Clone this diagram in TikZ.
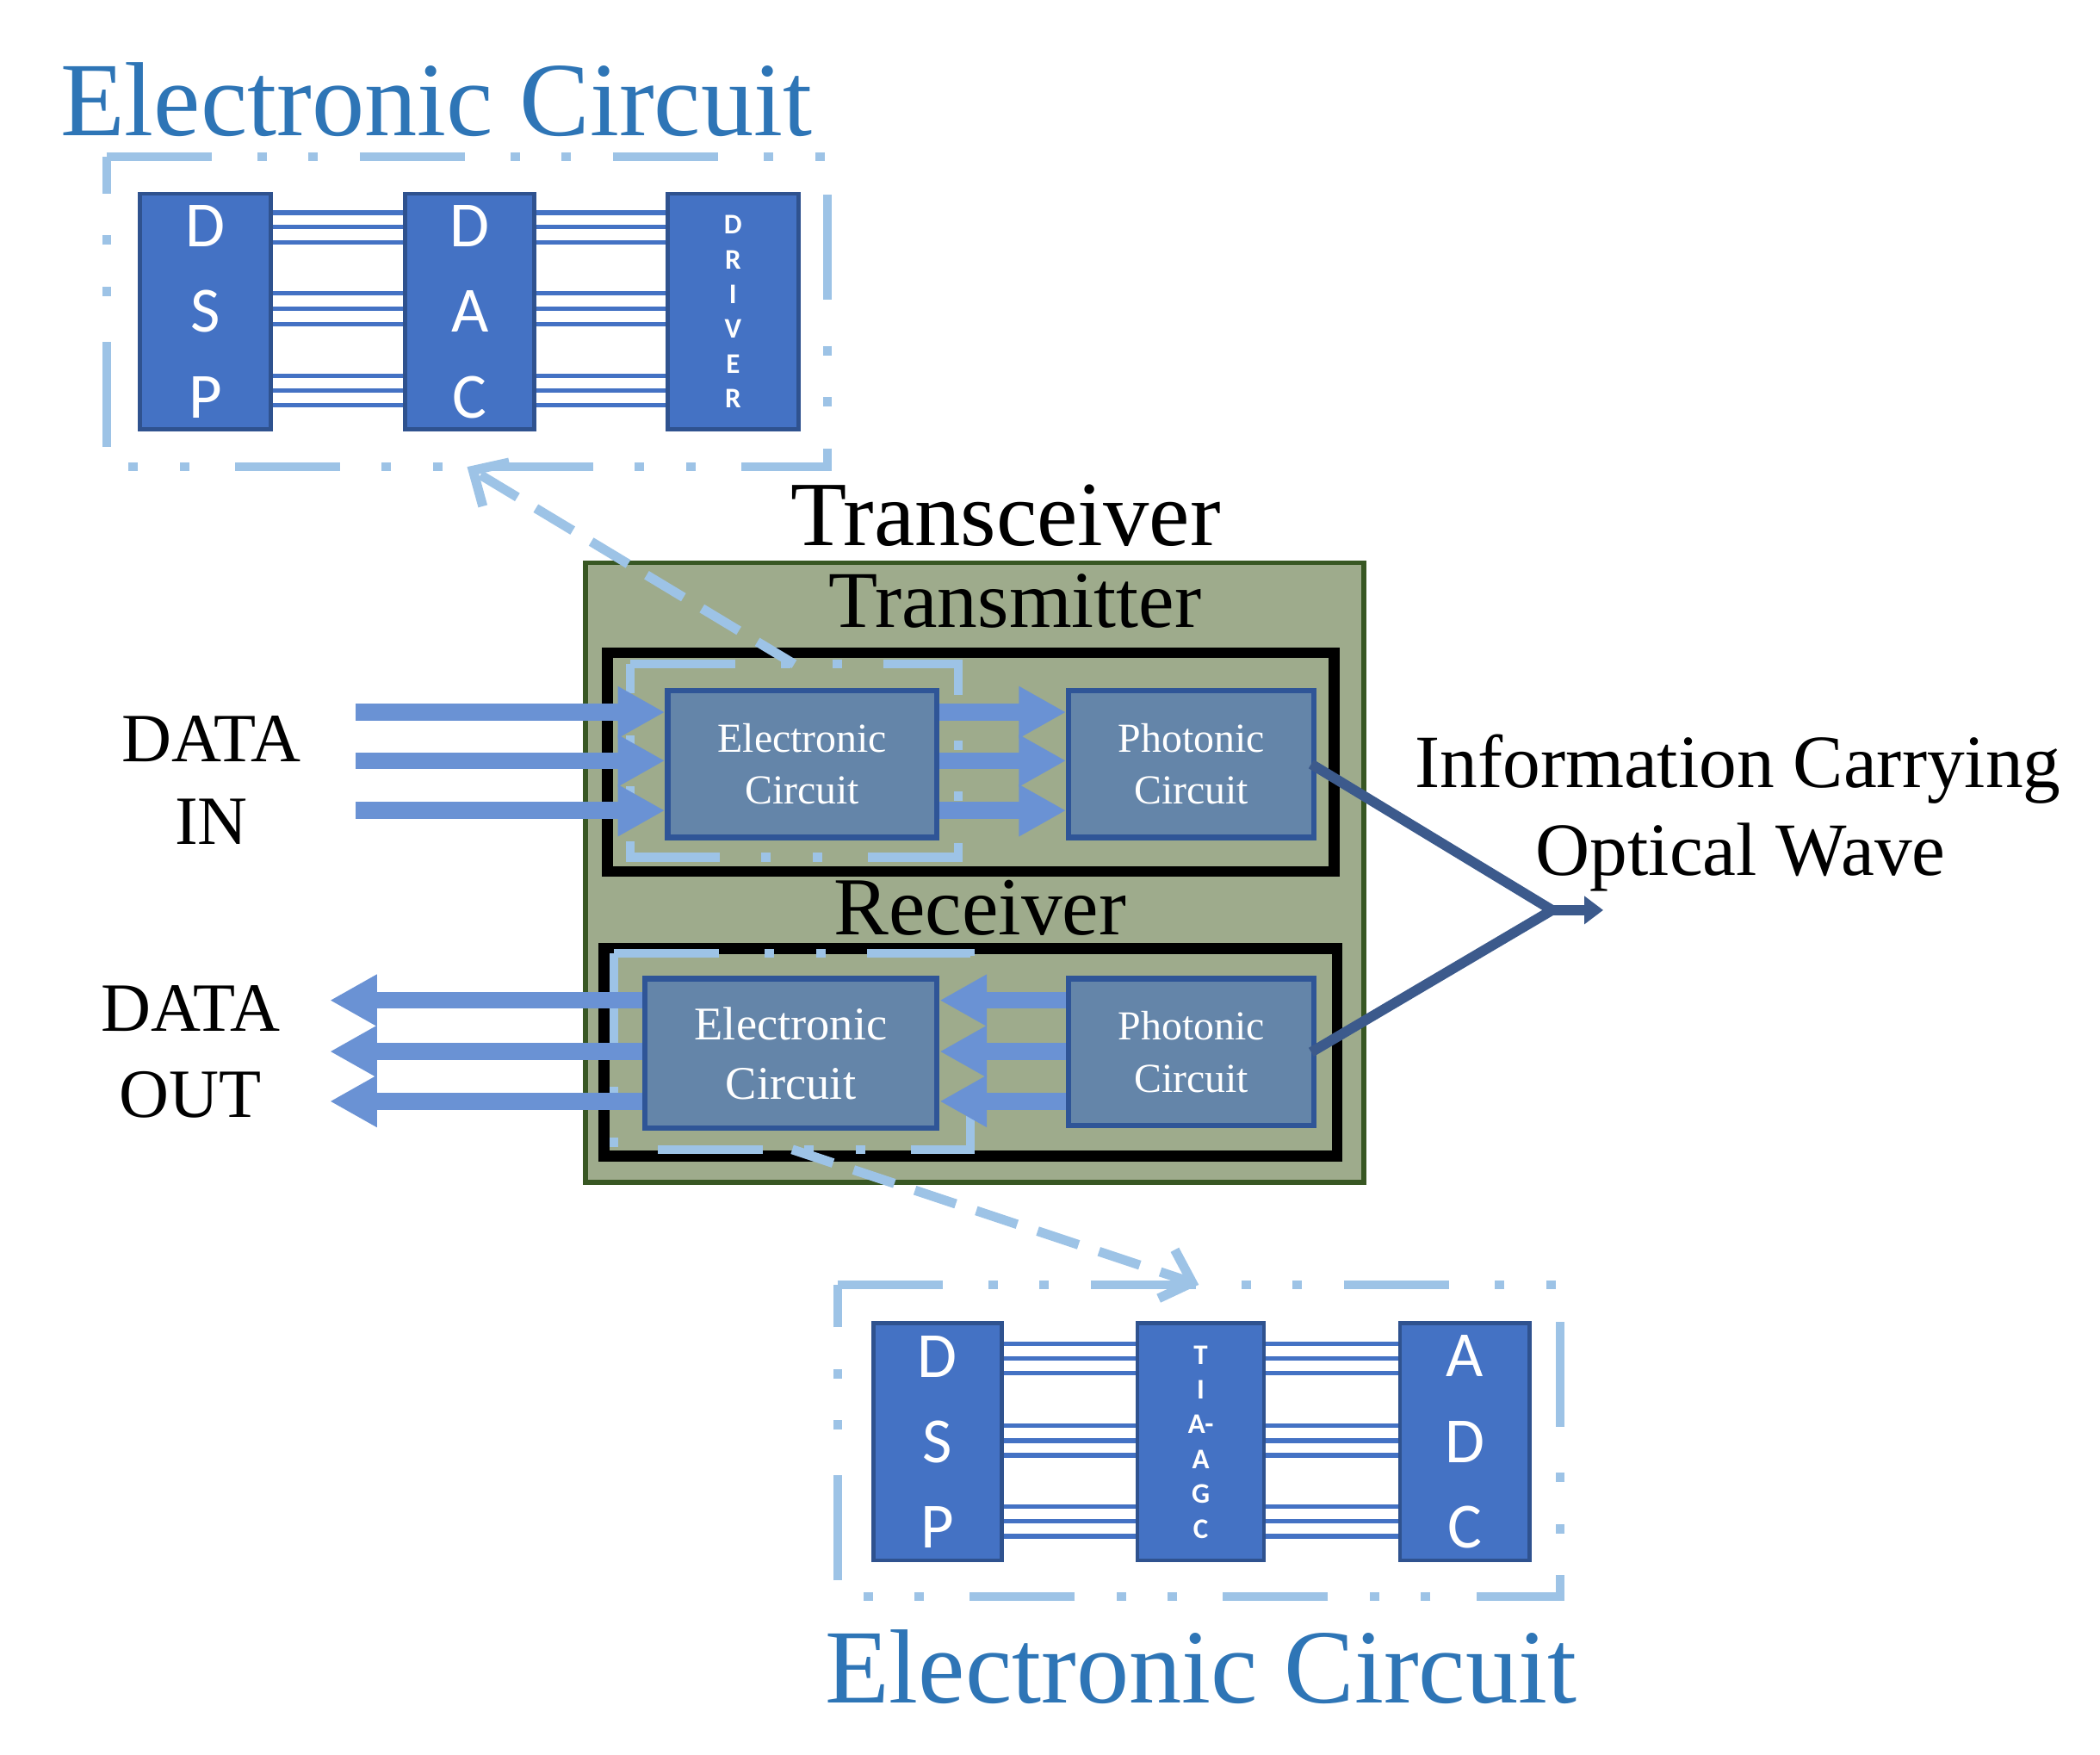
\documentclass[tikz,border=0pt]{standalone}
\usepackage{fontspec}
\setmainfont{Liberation Serif}
\newfontfamily\calibrifont{Carlito}
\usetikzlibrary{arrows.meta}
\definecolor{grnfill}{RGB}{158,171,140}
\definecolor{grnedge}{RGB}{56,87,35}
\definecolor{boxfill}{RGB}{100,133,169}
\definecolor{boxedge}{RGB}{47,85,151}
\definecolor{blkfill}{RGB}{68,114,196}
\definecolor{blkedge}{RGB}{47,82,143}
\definecolor{arrblue}{RGB}{106,146,212}
\definecolor{ltblue}{RGB}{157,195,230}
\definecolor{infoblue}{RGB}{60,90,140}
\definecolor{ttlblue}{RGB}{46,117,182}
\begin{document}
\begin{tikzpicture}[x=0.01cm,y=-0.01cm,
  blk/.style={fill=blkfill, draw=blkedge, line width=0.03cm, minimum width=0.96cm,
    minimum height=1.75cm, inner sep=0pt, text=white, align=center},
  bigletters/.style={font=\calibrifont\fontsize{13.6}{18.07}\selectfont},
  smallletters/.style={font=\calibrifont\bfseries\fontsize{6}{7.35}\selectfont},
  bus/.style={draw=blkfill, line width=0.034cm},
  ecdash/.style={draw=ltblue, line width=0.066cm,
    dash pattern=on 0.78cm off 0.34cm on 0.07cm off 0.31cm on 0.07cm off 0.31cm},
  frame/.style={inner sep=0pt},
  subbox/.style={fill=boxfill, draw=boxedge, line width=0.04cm, inner sep=0pt,
    text=white, align=center},
  blackbox/.style={draw=black, line width=0.08cm, inner sep=0pt},
  fatarrow/.style={draw=arrblue, line width=0.125cm, -{Triangle[length=0.35cm,width=0.36cm]}},
  dasharrow/.style={draw=ltblue, line width=0.07cm, dash pattern=on 0.32cm off 0.16cm,
    -{Straight Barb[length=0.2cm,width=0.38cm]}},
  info/.style={draw=infoblue, line width=0.075cm, line join=round},
  ttl/.style={anchor=base, text=ttlblue, font=\fontsize{22.25}{26}\selectfont},
  lbl/.style={anchor=base, font=\fontsize{14.6}{17}\selectfont},
  infolbl/.style={anchor=base, font=\fontsize{15.9}{19}\selectfont},
]
\useasboundingbox (0,0) rectangle (1560,1303.5);

% ---------- top electronic circuit ----------
\node[ttl] (ttl1) at (324,101) {Electronic Circuit};
\node[frame, minimum width=5.34cm, minimum height=2.29cm] (box1) at (347,231.5) {};
\draw[ecdash] (box1.north west) -- (box1.north east) -- (box1.south east) -- (box1.south west) -- cycle;
\coordinate (c1a) at (152.5,231.5);
\coordinate (c1b) at (349,231.5);
\coordinate (c1c) at (544.5,231.5);
\foreach \yy in {158,168.5,180,218,229.5,241,279,290,301}{
  \draw[bus] (201,\yy) -- (301,\yy);
  \draw[bus] (397,\yy) -- (496,\yy);
}
\node[blk, bigletters, minimum width=0.97cm] (dsp1) at (c1a) {D\\S\\P};
\node[blk, bigletters] (dac1) at (c1b) {D\\A\\C};
\node[blk, smallletters, minimum width=0.97cm] (drv1) at (c1c) {D\\R\\I\\V\\E\\R};

% ---------- transceiver ----------
\node[anchor=base, font=\fontsize{19.4}{22}\selectfont] (lbltrx) at (747,405.5) {Transceiver};
\node[fill=grnfill, draw=grnedge, line width=0.035cm, inner sep=0pt,
  minimum width=5.78cm, minimum height=4.6cm] (trx) at (724,648) {};
\node[blackbox, minimum width=5.395cm, minimum height=1.625cm] (txbox) at (721,566) {};
\node[blackbox, minimum width=5.445cm, minimum height=1.54cm] (rxbox) at (721,781.5) {};
\node[anchor=base, font=\fontsize{17}{20}\selectfont] (lbltx) at (754,466) {Transmitter};
\node[anchor=base, font=\fontsize{17.4}{20}\selectfont] (lblrx) at (728,694) {Receiver};

% inner dash-dot frames
\node[frame, minimum width=2.42cm, minimum height=1.42cm] (txdash) at (590,565) {};
\draw[ecdash] (txdash.north west) -- (txdash.north east) -- (txdash.south east) -- (txdash.south west) -- cycle;
\node[frame, minimum width=2.63cm, minimum height=1.44cm] (rxdash) at (588.5,781) {};
\draw[ecdash] (rxdash.north west) -- (rxdash.north east) -- (rxdash.south east) -- (rxdash.south west) -- cycle;

% sub boxes
\node[subbox, minimum width=2.0cm, minimum height=1.09cm,
  font=\fontsize{8.7}{10.8}\selectfont] (txel) at (596,567.5) {Electronic\\Circuit};
\node[subbox, minimum width=1.82cm, minimum height=1.09cm,
  font=\fontsize{8.7}{10.8}\selectfont] (txph) at (885,567.5) {Photonic\\Circuit};
\node[subbox, minimum width=2.17cm, minimum height=1.11cm,
  font=\fontsize{9.9}{12.5}\selectfont] (rxel) at (587.5,782.5) {Electronic\\Circuit};
\node[subbox, minimum width=1.82cm, minimum height=1.09cm,
  font=\fontsize{8.7}{11.1}\selectfont] (rxph) at (885,781.5) {Photonic\\Circuit};

% arrows
\coordinate (din1) at (264,529);
\coordinate (din2) at (264,565);
\coordinate (din3) at (264,602);
\coordinate (dout1) at (245,743);
\coordinate (dout2) at (245,781);
\coordinate (dout3) at (245,818);
\foreach \c in {din1,din2,din3}{
  \draw[fatarrow] (\c) -- (txel.west |- \c);
  \draw[fatarrow] (txel.east |- \c) -- (txph.west |- \c);
}
\foreach \c in {dout1,dout2,dout3}{
  \draw[fatarrow] (rxph.west |- \c) -- (rxel.east |- \c);
  \draw[fatarrow] (rxel.west |- \c) -- (\c);
}

% labels
\node[lbl] (din) at (157,566) {DATA};
\node[lbl] (dinb) at (157,627) {IN};
\node[lbl] (dout) at (141.5,766) {DATA};
\node[lbl] (doutb) at (141.5,830) {OUT};

% information carrying optical wave
\coordinate (join) at (1153,676);
\coordinate (tip) at (1191,676);
\draw[info] ([xshift=-0.04cm]txph.east) -- (join);
\draw[info] ([xshift=-0.04cm]rxph.east) -- (join);
\draw[info, -{Triangle[length=0.14cm,width=0.2cm]}] (join) -- (tip);
\node[infolbl] (inf1) at (1291,585) {Information Carrying};
\node[infolbl] (inf2) at (1293,650) {Optical Wave};

% ---------- bottom electronic circuit ----------
\node[frame, minimum width=5.35cm, minimum height=2.3cm] (box2) at (890.5,1070) {};
\draw[ecdash] (box2.north west) -- (box2.north east) -- (box2.south east) -- (box2.south west) -- cycle;
\coordinate (c2a) at (696.5,1071);
\coordinate (c2b) at (892,1071);
\coordinate (c2c) at (1088,1071);
\foreach \yy in {998,1009,1020,1059,1070,1081,1119,1130,1141}{
  \draw[bus] (744,\yy) -- (845,\yy);
  \draw[bus] (939,\yy) -- (1040,\yy);
}
\node[blk, bigletters, minimum width=0.95cm, minimum height=1.76cm] (dsp2) at (c2a) {D\\S\\P};
\node[blk, smallletters, minimum width=0.94cm, minimum height=1.76cm] (tia2) at (c2b) {T\\I\\A-\\A\\G\\C};
\node[blk, bigletters, minimum width=0.96cm, minimum height=1.76cm] (adc2) at (c2c) {A\\D\\C};
\node[ttl] (ttl2) at (892,1265) {Electronic Circuit};

% dashed pointers
\draw[dasharrow] (txdash.north) -- (box1.south);
\draw[dasharrow] (rxdash.south) -- (box2.north);
\end{tikzpicture}
\end{document}
